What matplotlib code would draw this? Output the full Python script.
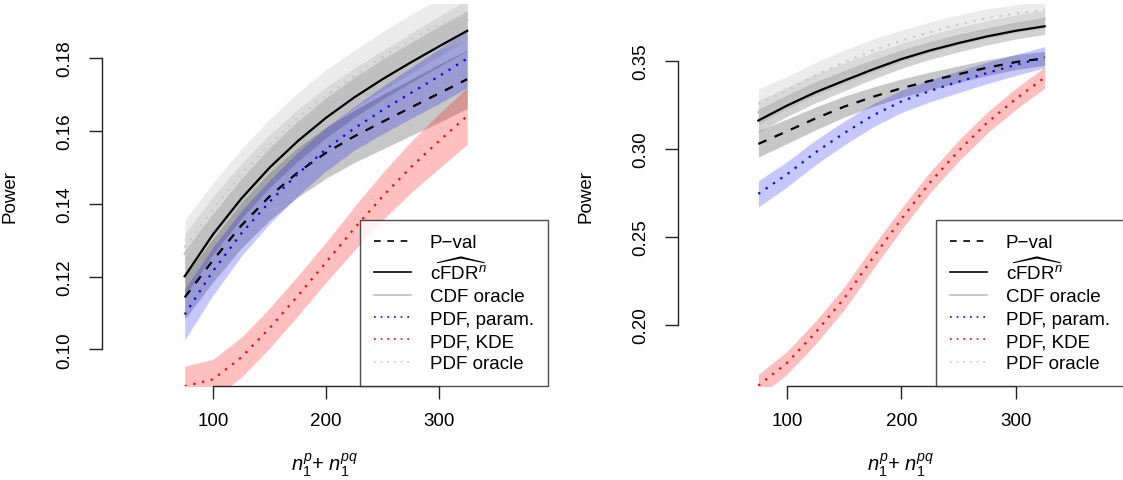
import matplotlib
matplotlib.use("Agg")
import matplotlib.pyplot as plt
from matplotlib.lines import Line2D

plt.rcParams['font.family'] = ['Liberation Sans', 'DejaVu Sans']
plt.rcParams['mathtext.fontset'] = 'custom'
plt.rcParams['mathtext.rm'] = 'Liberation Sans'
plt.rcParams['mathtext.it'] = 'Liberation Sans:italic'
plt.rcParams['mathtext.sf'] = 'Liberation Sans'

# sample size on the x axis (same for both panels)
n = [75, 100, 125, 150, 175, 200, 225, 250, 275, 300, 325]

# left panel: power curves and half widths of the bands
pval_l = [0.1143, 0.1245, 0.1340, 0.1420, 0.1486, 0.1540, 0.1585, 0.1625, 0.1664, 0.1703, 0.1742]
cfdr_l = [0.1201, 0.1316, 0.1414, 0.1499, 0.1572, 0.1636, 0.1692, 0.1742, 0.1788, 0.1832, 0.1875]
cdfo_l = [0.1262, 0.1365, 0.1455, 0.1535, 0.1604, 0.1665, 0.1718, 0.1766, 0.1813, 0.1860, 0.1905]
param_l = [0.1096, 0.1215, 0.1318, 0.1405, 0.1482, 0.1550, 0.1607, 0.1657, 0.1704, 0.1750, 0.1799]
kde_l = [0.0899, 0.0918, 0.0978, 0.1058, 0.1147, 0.1239, 0.1332, 0.1420, 0.1500, 0.1572, 0.1641]
pdfo_l = [0.1280, 0.1385, 0.1480, 0.1562, 0.1635, 0.1697, 0.1752, 0.1802, 0.1850, 0.1893, 0.1918]
pval_l_hw = [0.0060, 0.0060, 0.0062, 0.0065, 0.0068, 0.0070, 0.0072, 0.0075, 0.0077, 0.0080, 0.0080]
cfdr_l_hw = [0.0055, 0.0055, 0.0055, 0.0055, 0.0055, 0.0055, 0.0055, 0.0055, 0.0055, 0.0055, 0.0055]
cdfo_l_hw = [0.0055, 0.0055, 0.0055, 0.0055, 0.0055, 0.0055, 0.0055, 0.0055, 0.0055, 0.0055, 0.0055]
param_l_hw = [0.0070, 0.0066, 0.0062, 0.0060, 0.0060, 0.0060, 0.0060, 0.0065, 0.0070, 0.0075, 0.0080]
kde_l_hw = [0.0055, 0.0055, 0.0055, 0.0055, 0.0055, 0.0055, 0.0060, 0.0065, 0.0070, 0.0075, 0.0078]
pdfo_l_hw = [0.0075, 0.0072, 0.0070, 0.0070, 0.0070, 0.0070, 0.0070, 0.0070, 0.0070, 0.0070, 0.0070]

# right panel
pval_r = [0.3028, 0.3100, 0.3173, 0.3240, 0.3296, 0.3345, 0.3387, 0.3425, 0.3462, 0.3494, 0.3515]
cfdr_r = [0.3161, 0.3246, 0.3322, 0.3388, 0.3452, 0.3511, 0.3560, 0.3602, 0.3640, 0.3672, 0.3697]
cdfo_r = [0.3208, 0.3290, 0.3365, 0.3430, 0.3492, 0.3548, 0.3598, 0.3642, 0.3680, 0.3712, 0.3739]
param_r = [0.2744, 0.2855, 0.2980, 0.3090, 0.3190, 0.3270, 0.3330, 0.3382, 0.3432, 0.3478, 0.3521]
kde_r = [0.1653, 0.1782, 0.1955, 0.2150, 0.2380, 0.2602, 0.2810, 0.2990, 0.3150, 0.3285, 0.3405]
pdfo_r = [0.3256, 0.3331, 0.3418, 0.3492, 0.3560, 0.3615, 0.3664, 0.3708, 0.3745, 0.3770, 0.3790]
pval_r_hw = [0.0075, 0.0070, 0.0065, 0.0060, 0.0055, 0.0052, 0.0050, 0.0047, 0.0045, 0.0042, 0.0040]
cfdr_r_hw = [0.0065, 0.0062, 0.0060, 0.0058, 0.0055, 0.0053, 0.0050, 0.0050, 0.0048, 0.0047, 0.0046]
cdfo_r_hw = [0.0065, 0.0062, 0.0060, 0.0058, 0.0055, 0.0053, 0.0050, 0.0050, 0.0050, 0.0050, 0.0050]
param_r_hw = [0.0075, 0.0072, 0.0070, 0.0068, 0.0066, 0.0064, 0.0062, 0.0062, 0.0061, 0.0060, 0.0060]
kde_r_hw = [0.0065, 0.0065, 0.0065, 0.0065, 0.0065, 0.0062, 0.0060, 0.0060, 0.0060, 0.0060, 0.0060]
pdfo_r_hw = [0.0085, 0.0080, 0.0075, 0.0070, 0.0065, 0.0060, 0.0058, 0.0055, 0.0052, 0.0050, 0.0050]

labels = ['P\u2212val', r'$\widehat{\mathrm{cFDR}}^{n}$', 'CDF oracle',
          'PDF, param.', 'PDF, KDE', 'PDF oracle']

# style of each method: line colour, line style, band colour, band alpha
styles = [
    ('black', (0, (4, 4)), 'black', 0.22),
    ('black', '-', 'black', 0.18),
    ('#BEBEBE', '-', '#808080', 0.20),
    ('blue', (0, (1, 3)), 'blue', 0.22),
    ('red', (0, (1, 3)), 'red', 0.25),
    ('#C8C8C8', (0, (1, 3)), '#C0C0C0', 0.30),
]

fig = plt.figure(figsize=(11.23, 4.81), dpi=100)
axl = fig.add_axes([0.0908, 0.1944, 0.3972, 0.7952])
axr = fig.add_axes([0.6037, 0.1944, 0.3972, 0.7952])


def draw(ax, curves, widths, ylim, xlim, yticks):
    for y, hw, st in zip(curves, widths, styles):
        lo = [a - b for a, b in zip(y, hw)]
        hi = [a + b for a, b in zip(y, hw)]
        ax.fill_between(n, lo, hi, color=st[2], alpha=st[3], lw=0)
    for y, st in zip(curves, styles):
        ax.plot(n, y, color=st[0], linestyle=st[1], lw=1.6)
    ax.set_xlim(*xlim)
    ax.set_ylim(*ylim)
    ax.set_xticks([100, 200, 300])
    ax.set_yticks(yticks)
    ax.set_yticklabels(['%.2f' % t for t in yticks])
    for s in ['top', 'right']:
        ax.spines[s].set_visible(False)
    ax.spines['left'].set_bounds(yticks[0], yticks[-1])
    ax.spines['bottom'].set_bounds(100, 300)
    for s in ['left', 'bottom']:
        ax.spines[s].set_linewidth(1.0)
        ax.spines[s].set_color('#222222')
    ax.tick_params(axis='both', length=9.4, width=1.0, color='#222222',
                   labelsize=13.5)
    ax.tick_params(axis='y', pad=11.5, labelrotation=90)
    ax.tick_params(axis='x', pad=9)
    for t in ax.get_yticklabels():
        t.set_va('center')
    ax.set_ylabel('Power', fontsize=13.5)
    ax.yaxis.set_label_coords(-0.188, 0.5)
    ax.set_xlabel(r'$n_1^{p}$+ $n_1^{pq}$', fontsize=14.5)
    ax.xaxis.set_label_coords(0.5, -0.204)
    ax.xaxis.label.set_va('center')

    handles = [Line2D([], [], color=st[0], linestyle=st[1], lw=1.2) for st in styles]
    leg = ax.legend(handles, labels, loc='lower right', bbox_to_anchor=(1.0, 0.0),
                    borderaxespad=0, fontsize=13.5, frameon=True, fancybox=False,
                    handlelength=2.0, handletextpad=1.0, borderpad=0.75,
                    labelspacing=0.28)
    leg.get_frame().set_edgecolor('#222222')
    leg.get_frame().set_linewidth(1.0)


draw(axl, [pval_l, cfdr_l, cdfo_l, param_l, kde_l, pdfo_l],
     [pval_l_hw, cfdr_l_hw, cdfo_l_hw, param_l_hw, kde_l_hw, pdfo_l_hw],
     (0.08983, 0.19485), (1.77, 396.5), [0.10, 0.12, 0.14, 0.16, 0.18])
draw(axr, [pval_r, cfdr_r, cdfo_r, param_r, kde_r, pdfo_r],
     [pval_r_hw, cfdr_r_hw, cdfo_r_hw, param_r_hw, kde_r_hw, pdfo_r_hw],
     (0.1648, 0.3824), (4.8, 394.3), [0.20, 0.25, 0.30, 0.35])

fig.savefig('out.png', dpi=100)
